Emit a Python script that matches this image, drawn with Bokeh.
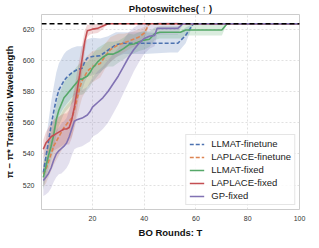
import numpy as np
from bokeh.plotting import figure
from bokeh.models import Range1d, Span, Legend, LegendItem, FixedTicker
from bokeh.embed import file_html
from bokeh.resources import INLINE

# ---------------- data ----------------
best_value = 623.5
x_ticks = [20, 40, 60, 80, 100]
y_ticks = [520, 540, 560, 580, 600, 620]

llmat_ft_x = [1, 2, 3, 4, 5, 6, 7, 8, 9, 10, 12, 14, 16, 17, 18, 20, 23, 26, 29, 32, 40, 50, 53, 56, 59, 100]
llmat_ft_y = [528, 538, 548, 558, 567, 575, 581, 584, 587, 589, 592, 594, 595, 599, 601.5, 602.5, 603, 606.5, 610, 611, 611, 611, 611, 616, 623.5, 623.5]
llmat_ft_sd = [9, 11, 13, 15, 16, 17, 17, 17, 17, 17, 16, 15, 14, 13, 12, 12, 11, 9, 8, 7, 7, 6, 6, 5, 0, 0]

laplace_ft_x = [1, 2, 3, 4, 5, 6, 7, 8, 9, 10, 11, 12, 13, 14, 15, 16, 17, 18, 20, 23, 25, 27, 30, 32, 35, 38, 40, 42, 100]
laplace_ft_y = [527, 530, 535, 540, 545, 548, 551, 554, 557, 559, 561, 563, 568, 575, 582, 587, 590, 593, 596, 598, 603, 607, 610, 611, 613, 615, 617.5, 623.5, 623.5]
laplace_ft_sd = [8, 9, 10, 11, 12, 12, 12, 12, 12, 12, 12, 12, 12, 12, 12, 11, 11, 10, 10, 9, 8, 8, 7, 6, 5, 5, 4, 0, 0]

llmat_fx_x = [1, 2, 3, 4, 5, 6, 7, 8, 9, 10, 11, 12, 13, 14, 15, 16, 17, 18, 19, 20, 22, 24, 26, 28, 30, 32, 34, 36, 38, 40, 42, 44, 46, 54, 56, 70, 72, 100]
llmat_fx_y = [525, 532, 539, 545, 552, 562, 568, 572, 576, 578, 580, 582, 584, 586, 588, 588, 589, 590, 592, 595, 599, 602, 604, 604, 605.5, 607.5, 610, 610.5, 612, 613, 613.5, 617, 618, 618, 619.5, 619.5, 623.5, 623.5]
llmat_fx_sd = [8, 8, 9, 9, 10, 10, 10, 10, 10, 10, 10, 10, 10, 10, 10, 10, 10, 9, 9, 9, 9, 8, 8, 8, 7, 7, 7, 6, 6, 6, 5, 4, 4, 4, 3.5, 3.5, 0, 0]

laplace_fx_x = [1, 2, 3, 4, 5, 6, 7, 8, 9, 10, 11, 12, 13, 14, 15, 16, 17, 18, 19, 20, 22, 24, 26, 100]
laplace_fx_y = [543, 547, 549, 551, 552, 553, 554, 555, 556, 556, 557, 562, 570, 580, 590, 601, 612, 619, 619.5, 620, 620.5, 622, 623.5, 623.5]
laplace_fx_sd = [6, 7, 8, 9, 10, 10, 10, 10, 10, 10, 11, 12, 12, 12, 11, 9, 7, 4, 3, 3, 3, 2, 0, 0]

gp_fx_x = [1, 2, 3, 4, 5, 6, 7, 8, 9, 10, 11, 12, 13, 14, 16, 18, 19, 20, 22, 24, 26, 28, 30, 32, 34, 36, 38, 40, 42, 44, 45, 53, 55, 100]
gp_fx_y = [523, 525, 527.5, 531, 536, 540, 542, 543.5, 545, 547, 551, 556, 561, 562, 563, 565, 567, 570, 573, 576, 580, 585, 590, 596, 602, 607, 611, 614, 615.5, 616, 620.5, 620.5, 623.5, 623.5]
gp_fx_sd = [10, 11, 12, 13, 14, 15, 15, 16, 16, 16, 17, 17, 18, 18, 18, 18, 19, 19, 20, 20, 20, 19, 18, 17, 16, 14, 12, 10, 8, 7, 4, 4, 0, 0]

series = [
    ("LLMAT-finetune", llmat_ft_x, llmat_ft_y, llmat_ft_sd, "#4C72B0", "4 2"),
    ("LAPLACE-finetune", laplace_ft_x, laplace_ft_y, laplace_ft_sd, "#DD8452", "4 2"),
    ("LLMAT-fixed", llmat_fx_x, llmat_fx_y, llmat_fx_sd, "#55A868", "solid"),
    ("LAPLACE-fixed", laplace_fx_x, laplace_fx_y, laplace_fx_sd, "#C44E52", "solid"),
    ("GP-fixed", gp_fx_x, gp_fx_y, gp_fx_sd, "#8172B3", "solid"),
]

FONT = "Liberation Sans"

p = figure(width=311, height=240, output_backend="svg", toolbar_location=None,
           x_range=Range1d(0.3, 100), y_range=Range1d(504.4, 629.4),
           min_border_left=31, min_border_right=12, min_border_top=0, min_border_bottom=30)
p.background_fill_color = "white"
p.border_fill_color = "white"
p.outline_line_color = "#cccccc"
p.outline_line_width = 1

p.title.text = "Photoswitches( ↑ )"
p.title.align = "center"
p.title.text_font = FONT
p.title.text_font_style = "bold"
p.title.text_font_size = "9.5px"
p.title.text_color = "#111111"
p.title.standoff = 1
p.title.offset = 0

for ax in (p.xaxis[0], p.yaxis[0]):
    ax.axis_line_color = None
    ax.major_tick_line_color = None
    ax.minor_tick_line_color = None
    ax.major_tick_out = 0
    ax.major_tick_in = 0
    ax.minor_tick_out = 0
    ax.minor_tick_in = 0
    ax.major_label_text_font = FONT
    ax.major_label_text_font_size = "7px"
    ax.major_label_text_color = "#333333"
    ax.axis_label_text_font = FONT
    ax.axis_label_text_font_style = "bold"
    ax.axis_label_text_font_size = "9.5px"
    ax.axis_label_text_color = "#111111"

p.xaxis[0].ticker = FixedTicker(ticks=x_ticks)
p.yaxis[0].ticker = FixedTicker(ticks=y_ticks)
p.xaxis[0].axis_label = "BO Rounds: T"
p.yaxis[0].axis_label = "π − π* Transition Wavelength"
p.xaxis[0].major_label_standoff = 6
p.yaxis[0].major_label_standoff = 7
p.xaxis[0].axis_label_standoff = 3
p.yaxis[0].axis_label_standoff = 5

for g in (p.xgrid[0], p.ygrid[0]):
    g.grid_line_color = "#d9d9d9"
    g.grid_line_dash = "2 2"
    g.grid_line_width = 0.8

for name, xs, ys, sds, color, dash in series:
    xs = np.array(xs, dtype=float)
    ys = np.array(ys, dtype=float)
    sds = np.array(sds, dtype=float)
    p.varea(x=xs, y1=ys - sds, y2=ys + sds, fill_color=color, fill_alpha=0.22)

items = []
for name, xs, ys, sds, color, dash in series:
    r = p.line(x=xs, y=ys, line_color=color, line_width=1.6, line_dash=dash)
    items.append(LegendItem(label=name, renderers=[r]))

p.add_layout(Span(location=best_value, dimension="width", line_color="black",
                  line_dash="5 3", line_width=1.6))

legend = Legend(items=items, location="bottom_right")
legend.margin = 4
legend.padding = 3
legend.spacing = 2
legend.label_height = 10
legend.glyph_height = 10
legend.glyph_width = 15
legend.label_standoff = 7
legend.label_text_font = FONT
legend.label_text_font_size = "9.5px"
legend.label_text_color = "#222222"
legend.border_line_color = "#cccccc"
legend.background_fill_alpha = 0.85
p.add_layout(legend)

open("out.html", "w").write(file_html(p, INLINE))
